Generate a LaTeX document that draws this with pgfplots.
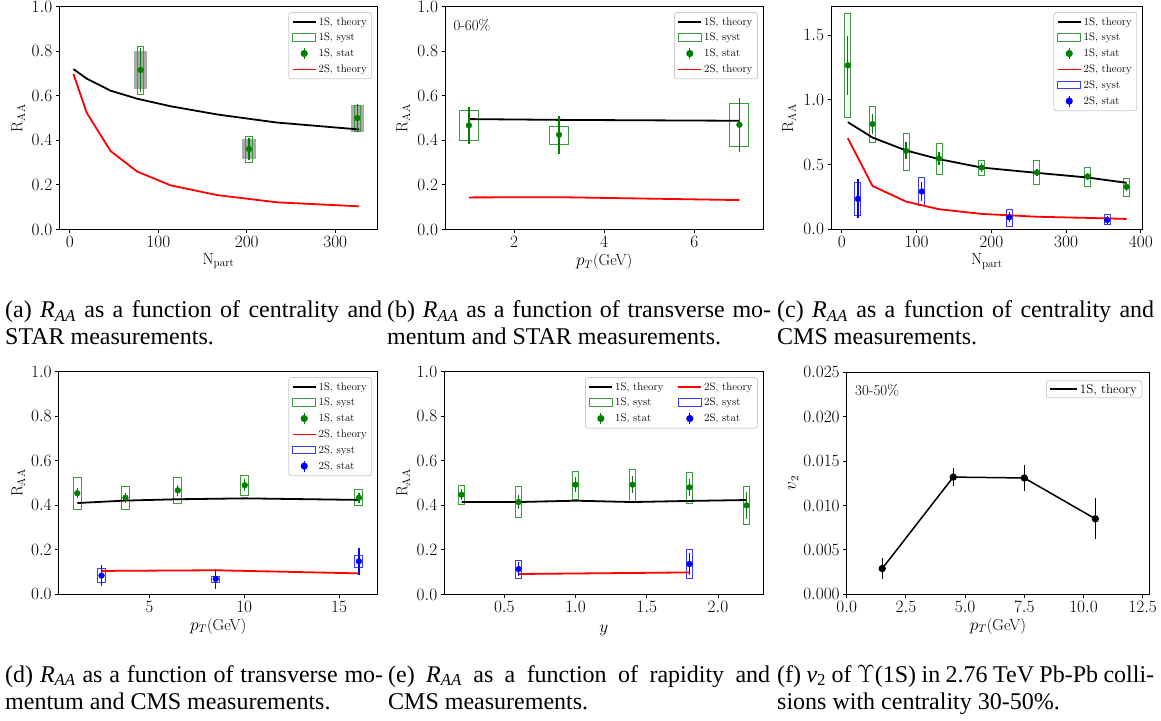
\documentclass[border=0pt]{standalone}
\usepackage{pgfplots}
\pgfplotsset{compat=1.18}
\usepackage{fontspec}
\newfontfamily\capfont{Liberation Serif}
\definecolor{mgreen}{RGB}{0,128,0}
\definecolor{mblue}{RGB}{0,0,255}
\definecolor{mred}{RGB}{255,0,0}
\definecolor{sgreen}{RGB}{60,155,60}
\definecolor{sblue}{RGB}{60,60,255}
\definecolor{mgray}{RGB}{170,170,170}
\newcommand\tfont{\fontsize{16}{19}\selectfont}
\newcommand\lfont{\fontsize{11}{13}\selectfont}
\newcommand\RAA{\textit{R}\textsubscript{\textit{AA}}}
\newcommand\bx[5]{\addplot[#1, forget plot] coordinates {(#2,#4) (#3,#4) (#3,#5) (#2,#5)} --cycle;}
\newcommand\lthe[2]{\addlegendimage{#1, line width=1.8pt, no markers, legend image code/.code={\draw[#1, line width=1.8pt] (0pt,0pt) -- (23pt,0pt);}}\addlegendentry{\lfont #2}}
\newcommand\lsys[2]{\addlegendimage{#1, line width=1pt, no markers, legend image code/.code={\draw[#1, line width=1pt, sharp corners] (0pt,-3.8pt) rectangle (23pt,3.8pt);}}\addlegendentry{\lfont #2}}
\newcommand\lstat[2]{\addlegendimage{#1, line width=1.3pt, legend image code/.code={\draw[#1, line width=1.3pt, sharp corners] (11.5pt,-5.5pt) -- (11.5pt,5.5pt); \fill[#1] (11.5pt,0pt) circle (2.9pt);}}\addlegendentry{\lfont #2}}
\newcommand\ylab[3]{\node[inner sep=0pt, anchor=center, rotate=90, font=\tfont] at (#1,#2) {#3};}
\newcommand\xlab[3]{\node[inner sep=0pt, anchor=base, font=\tfont] at (#1,#2) {#3};}
\pgfplotsset{
  mpl/.style={
    scale only axis,
    anchor=south west,
    axis line style={line width=1pt},
    every tick/.style={black, line width=0.9pt},
    tick align=outside,
    major tick length=3.5pt,
    tick pos=left,
    ticklabel style={font=\tfont},
    scaled ticks=false,
    cycle list={{black}},
    legend cell align=left,
    legend style={font=\lfont, draw=black!20, line width=0.8pt,
      rounded corners=2.5pt, fill=white, at={(1,1)}, anchor=north east,
      xshift=-5.5pt, yshift=-5.5pt, inner xsep=3pt, inner ysep=3.5pt, row sep=4pt,
      nodes={inner ysep=1.2pt}},
  },
  the/.style={line width=1.8pt},
  sys/.style={line width=1pt},
  stat/.style={forget plot, only marks, mark=*, mark size=2.9pt,
     error bars/.cd, y dir=both, y explicit, error mark=none, error bar style={line width=1.3pt}, /pgfplots/.cd},
  raay/.style={ymin=0, ymax=1, ytick={0,0.2,0.4,0.6,0.8,1.0},
     yticklabel style={/pgf/number format/.cd, fixed, fixed zerofill, precision=1}},
}
\begin{document}
\begin{tikzpicture}[x=1pt,y=1pt]
\useasboundingbox (0,0) rectangle (1161,720);

% ---------------- (a)
\begin{axis}[mpl, raay, at={(59.3pt,490.5pt)}, width=318.4pt, height=222.8pt,
  xmin=-12, xmax=348, xtick={0,100,200,300}]
\lthe{black}{1S, theory}
\lsys{sgreen}{1S, syst}
\lstat{mgreen}{1S, stat}
\lthe{mred}{2S, theory}
\bx{draw=none, fill=mgray}{72.8}{87.2}{0.630}{0.801}
\bx{draw=none, fill=mgray}{195}{210}{0.317}{0.404}
\bx{draw=none, fill=mgray}{317.5}{332.5}{0.437}{0.557}
\bx{sgreen, sys}{76.5}{83.5}{0.608}{0.823}
\bx{sgreen, sys}{199}{206}{0.302}{0.419}
\bx{sgreen, sys}{321.5}{328.5}{0.440}{0.557}
\addplot[black, the, forget plot] coordinates {(4,0.720) (19,0.677) (46,0.623) (76,0.587) (114,0.553) (167,0.516) (234,0.480) (327,0.449)};
\addplot[mred, the, forget plot] coordinates {(4,0.698) (19,0.524) (46,0.352) (76,0.260) (114,0.198) (167,0.154) (234,0.122) (327,0.104)};
\addplot[mgreen, stat] coordinates {(80,0.716) +- (0,0.10) (202.5,0.361) +- (0,0.05) (325,0.500) +- (0,0.062)};
\end{axis}

% ---------------- (b)
\begin{axis}[mpl, raay, at={(445pt,490.5pt)}, width=318.3pt, height=222.8pt,
  xmin=0.47, xmax=7.53, xtick={2,4,6}]
\lthe{black}{1S, theory}
\lsys{sgreen}{1S, syst}
\lstat{mgreen}{1S, stat}
\lthe{mred}{2S, theory}
\bx{sgreen, sys}{0.79}{1.21}{0.400}{0.533}
\bx{sgreen, sys}{2.79}{3.21}{0.383}{0.464}
\bx{sgreen, sys}{6.79}{7.21}{0.374}{0.564}
\addplot[black, the, forget plot] coordinates {(1,0.4955) (3,0.492) (7,0.488)};
\addplot[mred, the, forget plot] coordinates {(1,0.144) (3,0.145) (7,0.132)};
\addplot[mgreen, stat] coordinates {(1,0.467) +- (0,0.083) (3,0.425) +- (0,0.085) (7,0.470) +- (0,0.121)};
\end{axis}

% ---------------- (c)
\begin{axis}[mpl, at={(831pt,490.7pt)}, width=311.7pt, height=222.6pt,
  xmin=-14.5, xmax=402.5, xtick={0,100,200,300,400},
  ymin=0, ymax=1.72, ytick={0,0.5,1,1.5},
  yticklabel style={/pgf/number format/.cd, fixed, fixed zerofill, precision=1}]
\lthe{black}{1S, theory}
\lsys{sgreen}{1S, syst}
\lstat{mgreen}{1S, stat}
\lthe{mred}{2S, theory}
\lsys{sblue}{2S, syst}
\lstat{mblue}{2S, stat}
\bx{sgreen, sys}{4}{12}{0.864}{1.667}
\bx{sgreen, sys}{37}{45}{0.673}{0.947}
\bx{sgreen, sys}{82}{90}{0.457}{0.743}
\bx{sgreen, sys}{126}{134}{0.423}{0.660}
\bx{sgreen, sys}{183}{191}{0.413}{0.534}
\bx{sgreen, sys}{257}{265}{0.348}{0.531}
\bx{sgreen, sys}{325}{333}{0.330}{0.477}
\bx{sgreen, sys}{377}{385}{0.255}{0.395}
\bx{sblue, sys}{17.5}{25.5}{0.103}{0.361}
\bx{sblue, sys}{103}{111}{0.181}{0.402}
\bx{sblue, sys}{220}{228}{0.023}{0.155}
\bx{sblue, sys}{351}{359}{0.034}{0.111}
\addplot[black, the, forget plot] coordinates {(8,0.828) (41,0.709) (86,0.609) (130,0.542) (187,0.477) (261,0.436) (329,0.400) (381,0.359)};
\addplot[mred, the, forget plot] coordinates {(8,0.704) (41,0.335) (86,0.214) (130,0.155) (187,0.119) (261,0.097) (329,0.088) (381,0.080)};
\addplot[mgreen, stat] coordinates {(8,1.267) +- (0,0.228) (41,0.813) +- (0,0.08) (86,0.606) +- (0,0.065) (130,0.547) +- (0,0.048) (187,0.477) +- (0,0.035) (261,0.439) +- (0,0.03) (329,0.408) +- (0,0.03) (381,0.328) +- (0,0.03)};
\addplot[mblue, stat] coordinates {(21.5,0.235) +- (0,0.15) (107,0.292) +- (0,0.077) (224,0.093) +- (0,0.04) (355,0.072) +- (0,0.03)};
\end{axis}

% ---------------- (d)
\begin{axis}[mpl, raay, at={(58.7pt,125.7pt)}, width=319pt, height=222.6pt,
  xmin=0.22, xmax=17.04, xtick={5,10,15}]
\lthe{black}{1S, theory}
\lsys{sgreen}{1S, syst}
\lstat{mgreen}{1S, stat}
\lthe{mred}{2S, theory}
\lsys{sblue}{2S, syst}
\lstat{mblue}{2S, stat}
\bx{sgreen, sys}{0.99}{1.41}{0.382}{0.525}
\bx{sgreen, sys}{3.53}{3.95}{0.382}{0.484}
\bx{sgreen, sys}{6.29}{6.71}{0.407}{0.525}
\bx{sgreen, sys}{9.82}{10.24}{0.442}{0.534}
\bx{sgreen, sys}{15.84}{16.26}{0.397}{0.473}
\bx{sblue, sys}{2.27}{2.69}{0.054}{0.114}
\bx{sblue, sys}{8.29}{8.71}{0.054}{0.079}
\bx{sblue, sys}{15.84}{16.26}{0.121}{0.174}
\addplot[black, the, forget plot] coordinates {(1.2,0.410) (3.74,0.421) (6.5,0.427) (10.03,0.431) (16.05,0.424)};
\addplot[mred, the, forget plot] coordinates {(2.48,0.105) (8.5,0.108) (16.05,0.094)};
\addplot[mgreen, stat] coordinates {(1.2,0.454) +- (0,0.023) (3.74,0.434) +- (0,0.022) (6.5,0.467) +- (0,0.025) (10.03,0.490) +- (0,0.026) (16.05,0.434) +- (0,0.022)};
\addplot[mblue, stat] coordinates {(2.48,0.084) +- (0,0.048) (8.5,0.069) +- (0,0.045) (16.05,0.148) +- (0,0.060)};
\end{axis}

% ---------------- (e)
\begin{axis}[mpl, raay, at={(444.3pt,125.5pt)}, width=319pt, height=222.8pt,
  xmin=0.079, xmax=2.318, xtick={0.5,1,1.5,2},
  xticklabel style={/pgf/number format/.cd, fixed, fixed zerofill, precision=1},
  legend columns=2,
  legend style={/tikz/every even column/.append style={column sep=12pt}}]
\lthe{black}{1S, theory}
\lthe{mred}{2S, theory}
\lsys{sgreen}{1S, syst}
\lsys{sblue}{2S, syst}
\lstat{mgreen}{1S, stat}
\lstat{mblue}{2S, stat}
\bx{sgreen, sys}{0.18}{0.22}{0.403}{0.490}
\bx{sgreen, sys}{0.58}{0.62}{0.346}{0.484}
\bx{sgreen, sys}{0.98}{1.02}{0.427}{0.553}
\bx{sgreen, sys}{1.38}{1.42}{0.418}{0.560}
\bx{sgreen, sys}{1.78}{1.82}{0.407}{0.548}
\bx{sgreen, sys}{2.18}{2.22}{0.312}{0.483}
\bx{sblue, sys}{0.58}{0.62}{0.074}{0.152}
\bx{sblue, sys}{1.78}{1.82}{0.070}{0.200}
\addplot[black, the, forget plot] coordinates {(0.2,0.415) (0.6,0.415) (1.0,0.421) (1.4,0.415) (1.8,0.420) (2.2,0.424)};
\addplot[mred, the, forget plot] coordinates {(0.6,0.092) (1.8,0.099)};
\addplot[mgreen, stat] coordinates {(0.2,0.448) +- (0,0.026) (0.6,0.415) +- (0,0.033) (1.0,0.493) +- (0,0.034) (1.4,0.493) +- (0,0.037) (1.8,0.481) +- (0,0.037) (2.2,0.400) +- (0,0.060)};
\addplot[mblue, stat] coordinates {(0.6,0.114) +- (0,0.03) (1.8,0.137) +- (0,0.05)};
\end{axis}

% ---------------- (f)
\begin{axis}[mpl, at={(846.7pt,125.7pt)}, width=302.6pt, height=222pt,
  xmin=0, xmax=12.78, xtick={0,2.5,5,7.5,10,12.5},
  ymin=0, ymax=0.025, ytick={0,0.005,0.01,0.015,0.02,0.025},
  xticklabel style={/pgf/number format/.cd, fixed, fixed zerofill, precision=1},
  yticklabel style={/pgf/number format/.cd, fixed, fixed zerofill, precision=3},
  legend style={xshift=-1.5pt, yshift=-2.5pt, inner ysep=2pt}]
\addlegendimage{black, line width=1.5pt, no markers, legend image code/.code={\draw[black, line width=1.5pt] (0pt,0pt) -- (27pt,0pt);}}
\addlegendentry{\fontsize{13}{15}\selectfont 1S, theory}
\addplot[black, line width=1.5pt, mark=*, mark size=2.9pt, forget plot,
  error bars/.cd, y dir=both, y explicit, error mark=none, error bar style={line width=1.2pt}]
  coordinates {(1.5,0.0029) +- (0,0.0012) (4.5,0.0132) +- (0,0.0010) (7.5,0.0131) +- (0,0.0015) (10.5,0.0085) +- (0,0.0023)};
\end{axis}

% ---------------- axis labels and panel texts
\ylab{18.3}{601.9}{$\mathrm{R_{AA}}$}
\xlab{218.5}{455.7}{$\mathrm{N_{part}}$}
\ylab{403.3}{601.9}{$\mathrm{R_{AA}}$}
\xlab{604.2}{454}{$p_T$(GeV)}
\ylab{789}{601.9}{$\mathrm{R_{AA}}$}
\xlab{986.9}{455}{$\mathrm{N_{part}}$}
\ylab{18.3}{237}{$\mathrm{R_{AA}}$}
\xlab{218.2}{89.7}{$p_T$(GeV)}
\ylab{403.3}{237}{$\mathrm{R_{AA}}$}
\xlab{603.8}{88}{$y$}
\ylab{793.3}{237}{$v_2$}
\xlab{998}{90}{$p_T$(GeV)}
\node[anchor=base west, inner sep=0pt, font=\fontsize{15}{18}\selectfont] at (453.3,689) {0-60\%};
\node[anchor=base west, inner sep=0pt, font=\fontsize{15}{18}\selectfont] at (855,324) {30-50\%};

% ---------------- captions
\begin{scope}[every node/.style={anchor=base west, inner sep=0pt, font=\capfont\fontsize{24}{27}\selectfont}]
\node at (5,402.7) {\makebox[377pt][s]{(a) \RAA{} as a function of centrality and}};
\node at (5,375.7) {STAR measurements.};
\node at (387,402.7) {\makebox[384pt][s]{(b) \RAA{} as a function of transverse mo-}};
\node at (387,375.7) {mentum and STAR measurements.};
\node at (777,402.7) {\makebox[377pt][s]{(c) \RAA{} as a function of centrality and}};
\node at (777,375.7) {CMS measurements.};
\node at (5,38) {\makebox[378pt][s]{(d) \RAA{} as a function of transverse mo-}};
\node at (5,11) {mentum and CMS measurements.};
\node at (388,38) {\makebox[382pt][s]{(e) \RAA{} as a function of rapidity and}};
\node at (388,11) {CMS measurements.};
\node at (777,38) {\makebox[377pt][s]{(f) \textit{v}\textsubscript{2} of $\Upsilon$(1S) in 2.76 TeV Pb-Pb colli-}};
\node at (777,11) {sions with centrality 30-50\%.};
\end{scope}
\end{tikzpicture}
\end{document}
